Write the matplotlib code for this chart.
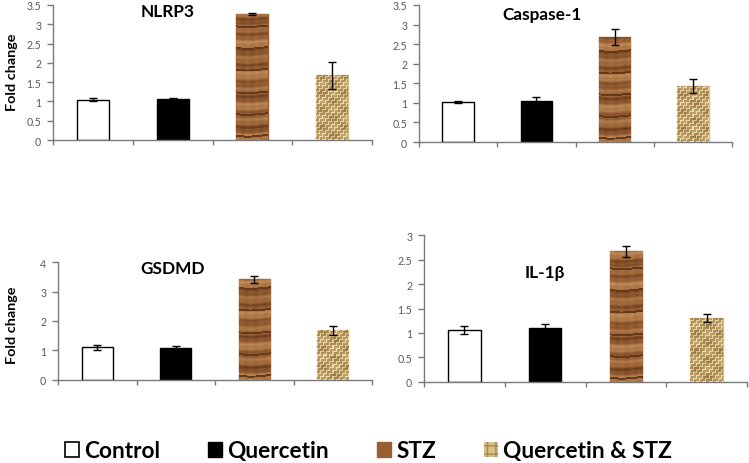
import numpy as np
import matplotlib
matplotlib.use("Agg")
import matplotlib.pyplot as plt
from matplotlib.patches import Patch
from matplotlib.colors import LinearSegmentedColormap

# ---------------- data ----------------
categories = ["Control", "Quercetin", "STZ", "Quercetin & STZ"]

nlrp3 = [1.05, 1.06, 3.27, 1.68]
nlrp3_err = [0.03, 0.03, 0.03, 0.35]

casp1 = [1.03, 1.04, 2.68, 1.43]
casp1_err = [0.03, 0.12, 0.20, 0.18]

gsdmd = [1.10, 1.07, 3.42, 1.68]
gsdmd_err = [0.08, 0.09, 0.13, 0.15]

il1b = [1.06, 1.11, 2.67, 1.30]
il1b_err = [0.09, 0.08, 0.11, 0.08]

titles = ["NLRP3", "Caspase-1", "GSDMD", "IL-1β"]
yticks_list = [
    [0, 0.5, 1, 1.5, 2, 2.5, 3, 3.5],
    [0, 0.5, 1, 1.5, 2, 2.5, 3, 3.5],
    [0, 1, 2, 3, 4],
    [0, 0.5, 1, 1.5, 2, 2.5, 3],
]
ytick_labels_list = [
    ["0", "0.5", "1", "1.5", "2", "2.5", "3", "3.5"],
    ["0", "0.5", "1", "1.5", "2", "2.5", "3", "3.5"],
    ["0", "1", "2", "3", "4"],
    ["0", "0.5", "1", "1.5", "2", "2.5", "3"],
]
ylabel_text = "Fold change"

# ---------------- style ----------------
plt.rcParams["font.family"] = ["Lato", "DejaVu Sans"]
TICK_COL = "#595959"
AX_COL = "#7a7a7a"

W, H = 749, 464
fig = plt.figure(figsize=(W / 100, H / 100), dpi=100)

def fr(l, r, b, t):
    return [l / W, 1 - b / H, (r - l) / W, (b - t) / H]

rects = [
    fr(53, 372, 141, 6),
    fr(419, 732, 143, 6),
    fr(58, 372, 380.7, 263.3),
    fr(424, 747, 382.7, 236.3),
]
title_pos = [(0.36, 0.955), (0.393, 0.934), (0.366, 0.951), (0.375, 0.749)]
values = [nlrp3, casp1, gsdmd, il1b]
errors = [nlrp3_err, casp1_err, gsdmd_err, il1b_err]

wood_cmap = LinearSegmentedColormap.from_list(
    "wood", ["#5a3216", "#804c26", "#996237", "#ab7444", "#c08a58"])
burlap_cmap = LinearSegmentedColormap.from_list(
    "burlap", ["#6e5028", "#a88650", "#cfb47c", "#ecdcae"])


def wood_tex(nr, nc):
    y = np.arange(nr)[:, None].astype(float)
    x = np.arange(nc)[None, :].astype(float)
    warp = 0.8 * np.sin(2 * np.pi * x / 45.0)
    v = (0.55
         + 0.25 * np.sin(2 * np.pi * (y + warp) / 15.3)
         + 0.10 * np.sin(2 * np.pi * (y + warp) / 5.1 + 1.3)
         + 0.12 * np.sin(2 * np.pi * y / 33.0 + 2.1)
         + 0.04 * np.sin(2 * np.pi * x / 9.0))
    v = np.where(np.sin(2 * np.pi * (y + warp) / 21.7 + 0.5) > 0.96, 0.08, v)
    return np.clip(v, 0, 1)


def burlap_tex(nr, nc):
    y = np.arange(nr)[:, None].astype(float) + np.zeros((1, nc))
    x = np.arange(nc)[None, :].astype(float) + np.zeros((nr, 1))
    chk = ((x // 3).astype(int) + (y // 3).astype(int)) % 2
    horiz = 0.58 + 0.34 * np.cos(2 * np.pi * y / 3.0)
    vert = 0.58 + 0.34 * np.cos(2 * np.pi * x / 3.0)
    v = np.where(chk == 0, horiz, vert)
    v += 0.15 * np.sin(2 * np.pi * x / 23.0) * np.sin(2 * np.pi * y / 17.0)
    return np.clip(v, 0, 1)


face_colors = ["white", "black", "#9a5e33", "#d8bf88"]
edge_colors = ["black", "black", "#9a5e33", "#d8bf88"]
x = np.arange(len(categories))

for i in range(4):
    ax = fig.add_axes(rects[i])
    bars = ax.bar(x, values[i], width=0.4, color=face_colors,
                  edgecolor=edge_colors, linewidth=1.0, zorder=2)
    ax.set_xlim(-0.5, 3.5)
    ax.set_ylim(0, yticks_list[i][-1])
    # textures for STZ and Quercetin & STZ bars
    for j, tex in ((2, wood_tex), (3, burlap_tex)):
        b = bars[j]
        x0, x1 = b.get_x(), b.get_x() + b.get_width()
        h = b.get_height()
        p0 = ax.transData.transform((x0, 0))
        p1 = ax.transData.transform((x1, h))
        nc = max(2, int(round(p1[0] - p0[0])))
        nr = max(2, int(round(p1[1] - p0[1])))
        cmap = wood_cmap if j == 2 else burlap_cmap
        im = ax.imshow(tex(nr, nc), cmap=cmap, vmin=0, vmax=1,
                       extent=(x0, x1, 0, h), origin="lower",
                       interpolation="nearest", aspect="auto", zorder=3)
        im.set_clip_path(b)
    ax.set_xlim(-0.5, 3.5)
    ax.set_ylim(0, yticks_list[i][-1])
    ax.errorbar(x, values[i], yerr=errors[i], fmt="none", ecolor="black",
                elinewidth=1.0, capsize=2.8, capthick=1.0, zorder=5)

    for s in ("top", "right"):
        ax.spines[s].set_visible(False)
    for s in ("left", "bottom"):
        ax.spines[s].set_color(AX_COL)
        ax.spines[s].set_linewidth(1.0)
    ax.set_yticks(yticks_list[i])
    ax.set_yticklabels(ytick_labels_list[i])
    ax.set_xticks([-0.5, 0.5, 1.5, 2.5, 3.5])
    ax.set_xticklabels([])
    ax.tick_params(axis="y", direction="out", length=4, width=1.0,
                   color=AX_COL, labelcolor=TICK_COL, labelsize=7.6, pad=4.5)
    ax.tick_params(axis="x", direction="out", length=3.5, width=1.0,
                   color=AX_COL)
    ax.text(title_pos[i][0], title_pos[i][1], titles[i], transform=ax.transAxes,
            ha="center", va="center", fontsize=12.4, fontweight="bold",
            color="black")
    if i in (0, 2):
        ax.set_ylabel(ylabel_text, fontsize=10.4, fontweight="bold",
                      color="black")
        if i == 0:
            ax.yaxis.set_label_coords(-0.11, 0.51)
        else:
            ax.yaxis.set_label_coords(-0.127, 0.47)

handles = [
    Patch(facecolor="white", edgecolor="black", linewidth=1.2),
    Patch(facecolor="black", edgecolor="black"),
    Patch(facecolor="#9a5e33", edgecolor="#9a5e33"),
    Patch(facecolor="#d8bf88", edgecolor="#a8884e", hatch="++", linewidth=0),
]
leg = fig.legend(handles, categories, loc="center", ncol=4,
                 bbox_to_anchor=(0.492, 0.026), frameon=False,
                 prop={"family": ["Lato", "DejaVu Sans"], "weight": "bold",
                       "size": 16.3},
                 handlelength=0.62, handleheight=0.62, handletextpad=0.25,
                 columnspacing=2.1, borderaxespad=0, borderpad=0)

fig.savefig("out.png", dpi=100)
